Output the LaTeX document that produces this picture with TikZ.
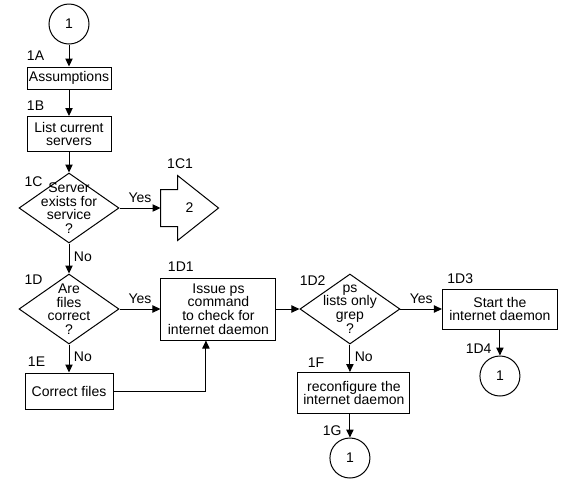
\documentclass[tikz,border=0pt]{standalone}
\usepackage{fontspec}
\setmainfont{Liberation Sans}
\usetikzlibrary{arrows.meta}
\usetikzlibrary{shapes.geometric}

\begin{document}
\begin{tikzpicture}[>={Triangle[length=6pt,width=5.5pt]}, line width=0.75pt,
			font=\fontsize{10.5}{10.2}\selectfont]
			\tikzstyle{connector} = [draw, circle, minimum size=30pt, inner sep=0pt]
			\tikzstyle{process} = [draw, rectangle, align=center, inner sep=1pt]
			\tikzstyle{decision} = [draw, diamond, align=center, minimum width=75pt, minimum height=52.5pt, inner sep=-9pt]
			\tikzstyle{offpage} = [rectangle, minimum width=42.75pt, minimum height=27pt, inner sep=0pt]
			\tikzstyle{tag} = [inner sep=0pt]
			\useasboundingbox (-51.75pt,18pt) rectangle (370.5pt,-347.25pt);

			\path[->]
			node[connector] (s1) {1}
			node[process, below of=s1, node distance=40.5pt, minimum width=63pt, minimum height=16.5pt] (a) {Assumptions}
			node[process, below of=a, node distance=42pt, minimum width=63pt, minimum height=26.25pt] (b) {List current\\servers}
			node[decision, below of=b, node distance=55.5pt] (c) {Server\\exists for\\service\\?}
			node[offpage, right of=c, node distance=90.4pt] (c1) {2}
			node[decision, below of=c, node distance=75.75pt] (d) {Are\\files\\correct\\?}
			node[process, right of=d, node distance=112.1pt, minimum width=86.25pt, minimum height=46.5pt] (d1) {Issue ps\\command\\to check for\\internet daemon}
			node[process, below of=d, node distance=61.5pt, minimum width=66pt, minimum height=27pt] (e) {Correct files}
			node[decision, right of=d1, node distance=98.6pt] (d2) {ps\\lists only\\grep\\?}
			node[process, right of=d2, node distance=112.5pt, minimum width=86.25pt, minimum height=30pt] (d3) {Start the\\internet daemon}
			node[connector, below of=d3, node distance=50.25pt] (d4) {1}
			node[process, below of=d2, node distance=63pt, xshift=3pt, minimum width=84pt, minimum height=30.75pt] (f) {reconfigure the\\internet daemon}
			node[connector, below of=d2, node distance=111.75pt] (g) {1}
			% step labels
			node[tag, anchor=base west] (la) at ([shift={(0pt,4.5pt)}]a.north west) {1A}
			node[tag, anchor=base west] (lb) at ([shift={(0pt,4pt)}]b.north west) {1B}
			node[tag, anchor=base east] (lc) at ([shift={(-19.5pt,-10.5pt)}]c.north) {1C}
			node[tag, anchor=base] (lc1) at ([shift={(-7.1pt,30pt)}]c1.center) {1C1}
			node[tag, anchor=base east] (ld) at ([shift={(-19.5pt,-8.25pt)}]d.north) {1D}
			node[tag, anchor=base west] (ld1) at ([shift={(5.25pt,4.5pt)}]d1.north west) {1D1}
			node[tag, anchor=base west] (le) at ([shift={(2.25pt,4.5pt)}]e.north west) {1E}
			node[tag, anchor=base east] (ld2) at ([shift={(-18pt,-9pt)}]d2.north) {1D2}
			node[tag, anchor=base west] (ld3) at ([shift={(3.75pt,3.75pt)}]d3.north west) {1D3}
			node[tag, anchor=base east] (ld4) at ([shift={(-6pt,1.5pt)}]d4.north) {1D4}
			node[tag, anchor=base west] (lf) at ([shift={(7.5pt,3.75pt)}]f.north west) {1F}
			node[tag, anchor=base east] (lg) at ([shift={(-6pt,1.5pt)}]g.north) {1G}
			(s1) edge (a)
			(a) edge (b)
			(b) edge (c)
			(c) edge node[above] {Yes} (c1)
			(c) edge node[right, pos=0.45] {No} (d)
			(d) edge node[above] {Yes} (d1)
			(d) edge node[right, pos=0.45] {No} (e)
			(d1) edge (d2)
			(d2) edge node[above] {Yes} (d3)
			(d3) edge (d4)
			(d2) edge node[right, pos=0.45] {No} (d2 |- f.north)
			(f.south -| g) edge (g)
			;
			% off-page connector outline
			\draw (c1.north west) -- ++(12.75pt,0) -- ++(0,10.5pt) -- (c1.east)
				-- ([shift={(12.75pt,-10.5pt)}]c1.south west) -- ++(0,10.5pt) -- (c1.south west) -- cycle;
			\draw[->] (e) -| ([xshift=-9.4pt]d1.south);
			\end{tikzpicture}
\end{document}
